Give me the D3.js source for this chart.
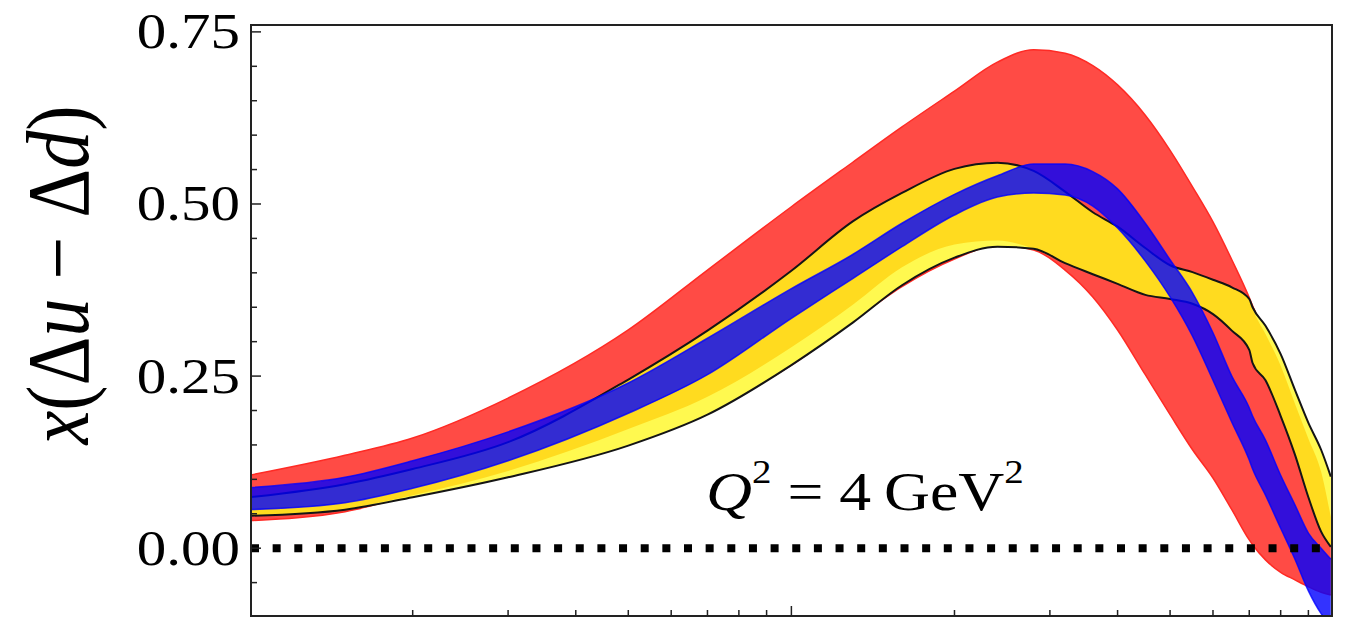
<!DOCTYPE html>
<html>
<head>
<meta charset="utf-8">
<script src="https://cdn.jsdelivr.net/npm/d3@7"></script>
<style>
  html, body { margin: 0; padding: 0; background: #fff; }
  svg { display: block; }
  text { font-family: "Liberation Serif", "Times New Roman", serif; fill: #000; }
</style>
</head>
<body>
<svg id="chart" width="1351" height="619"></svg>
<script>
// Momentum fraction grid shared by all bands
const xGrid = [0.01, 0.015, 0.02, 0.03, 0.05, 0.07, 0.1, 0.13, 0.16, 0.2, 0.24, 0.28, 0.32, 0.36,
               0.4, 0.45, 0.5, 0.55, 0.6, 0.65, 0.7, 0.71, 0.75, 0.8, 0.85, 0.9, 0.95, 0.99];

// Red uncertainty band
const redLow  = [0.040, 0.053, 0.077, 0.108, 0.153, 0.198, 0.266, 0.330, 0.380, 0.420, 0.440, 0.433, 0.404, 0.365,
                 0.317, 0.252, 0.194, 0.143, 0.102, 0.056, 0.012, 0.005, -0.017, -0.035, -0.046, -0.056, -0.064, -0.068];
const redHigh = [0.106, 0.135, 0.160, 0.218, 0.317, 0.404, 0.496, 0.561, 0.612, 0.664, 0.706, 0.724, 0.719, 0.701,
                 0.673, 0.629, 0.578, 0.525, 0.474, 0.419, 0.364, 0.352, 0.310, 0.256, 0.201, 0.143, 0.070, 0.005];

// Yellow band envelope (outlined in black)
const yellowLow  = [0.047, 0.056, 0.074, 0.103, 0.149, 0.194, 0.266, 0.328, 0.382, 0.422, 0.438, 0.435, 0.414, 0.398,
                    0.384, 0.368, 0.362, 0.355, 0.340, 0.316, 0.288, 0.269, 0.244, 0.192, 0.136, 0.074, 0.024, 0.002];
const yellowHigh = [0.074, 0.093, 0.115, 0.154, 0.245, 0.316, 0.403, 0.475, 0.516, 0.551, 0.560, 0.548, 0.518, 0.488,
                    0.467, 0.436, 0.411, 0.401, 0.390, 0.379, 0.362, 0.350, 0.323, 0.282, 0.230, 0.182, 0.143, 0.104];

// Gold band inside the yellow envelope
const goldLow  = [0.047, 0.057, 0.077, 0.112, 0.173, 0.220, 0.292, 0.354, 0.408, 0.441, 0.447, 0.435, 0.414, 0.398,
                  0.384, 0.368, 0.362, 0.355, 0.340, 0.316, 0.288, 0.269, 0.244, 0.192, 0.136, 0.074, 0.024, 0.002];
const goldHigh = [0.074, 0.093, 0.115, 0.154, 0.245, 0.316, 0.403, 0.475, 0.516, 0.551, 0.560, 0.548, 0.518, 0.488,
                  0.467, 0.436, 0.411, 0.401, 0.390, 0.379, 0.362, 0.348, 0.311, 0.265, 0.210, 0.159, 0.111, 0.045];

// Blue uncertainty band
const blueLow  = [0.056, 0.066, 0.087, 0.127, 0.196, 0.252, 0.334, 0.392, 0.438, 0.484, 0.510, 0.516, 0.513, 0.497,
                  0.465, 0.417, 0.365, 0.308, 0.244, 0.183, 0.128, 0.115, 0.077, 0.029, -0.016, -0.062, -0.095, -0.112];
const blueHigh = [0.088, 0.103, 0.127, 0.169, 0.240, 0.305, 0.377, 0.427, 0.472, 0.514, 0.541, 0.558, 0.558, 0.547,
                  0.522, 0.472, 0.419, 0.371, 0.313, 0.250, 0.204, 0.192, 0.157, 0.106, 0.063, 0.022, 0.000, -0.016];

const yMajorTicks = [0.00, 0.25, 0.50, 0.75];
const yTickLabels = ["0.00", "0.25", "0.50", "0.75"];
const xMajorTicks = [0.1];
const xMinorTicks = [0.02, 0.03, 0.04, 0.05, 0.06, 0.07, 0.08, 0.09, 0.2, 0.3, 0.4, 0.5, 0.6, 0.7, 0.8, 0.9];

const plot = { left: 251, right: 1332, top: 25, bottom: 616 };
const stretch = 1.18;

const svg = d3.select("#chart");

const x = d3.scaleLog().domain([0.01006, 0.995]).range([plot.left, plot.right]);
const y = d3.scaleLinear().domain([-0.0985, 0.76]).range([plot.bottom, plot.top]);

svg.append("defs").append("clipPath").attr("id", "plotClip")
  .append("rect")
  .attr("x", plot.left).attr("y", plot.top)
  .attr("width", plot.right - plot.left).attr("height", plot.bottom - plot.top);

const band = (lo, hi) => xGrid.map((xv, i) => ({ x: xv, lo: lo[i], hi: hi[i] }));
const curve = d3.curveMonotoneX;
const area = d3.area().x(d => x(d.x)).y0(d => y(d.lo)).y1(d => y(d.hi)).curve(curve);
const lineLo = d3.line().x(d => x(d.x)).y(d => y(d.lo)).curve(curve);
const lineHi = d3.line().x(d => x(d.x)).y(d => y(d.hi)).curve(curve);

const g = svg.append("g").attr("clip-path", "url(#plotClip)");

// red band
const red = band(redLow, redHigh);
g.append("path").attr("d", area(red)).attr("fill", "#ff4b45");
[lineLo, lineHi].forEach(l => g.append("path").attr("d", l(red))
  .attr("fill", "none").attr("stroke", "#ff2a24").attr("stroke-width", 1.5));

// yellow envelope and gold band
const yellow = band(yellowLow, yellowHigh);
const gold = band(goldLow, goldHigh);
g.append("path").attr("d", area(yellow)).attr("fill", "#fff94f");
g.append("path").attr("d", area(gold)).attr("fill", "#ffdb1f");
[lineLo, lineHi].forEach(l => g.append("path").attr("d", l(yellow))
  .attr("fill", "none").attr("stroke", "#151515").attr("stroke-width", 2));

// blue band (translucent, on top)
const blue = band(blueLow, blueHigh);
g.append("path").attr("d", area(blue)).attr("fill", "#0000ff").attr("fill-opacity", 0.8);
[lineLo, lineHi].forEach(l => g.append("path").attr("d", l(blue))
  .attr("fill", "none").attr("stroke", "#0000ff").attr("stroke-opacity", 0.8).attr("stroke-width", 1.5));

// dotted zero line
g.append("line")
  .attr("x1", plot.left).attr("x2", plot.right)
  .attr("y1", y(0)).attr("y2", y(0))
  .attr("stroke", "#000").attr("stroke-width", 8)
  .attr("stroke-dasharray", "8 13.65");

// frame
svg.append("rect")
  .attr("x", plot.left).attr("y", plot.top)
  .attr("width", plot.right - plot.left).attr("height", plot.bottom - plot.top)
  .attr("fill", "none").attr("stroke", "#222").attr("stroke-width", 2);

// ticks (inward)
const ticks = svg.append("g").attr("stroke", "#222").attr("stroke-width", 1.5);
const yMinor = d3.range(-0.05, 0.7501, 0.05).filter(v => !yMajorTicks.some(m => Math.abs(m - v) < 1e-6));
yMajorTicks.forEach(v => ticks.append("line").attr("x1", plot.left).attr("x2", plot.left + 10)
  .attr("y1", y(v)).attr("y2", y(v)));
yMinor.forEach(v => ticks.append("line").attr("x1", plot.left).attr("x2", plot.left + 6)
  .attr("y1", y(v)).attr("y2", y(v)));
xMajorTicks.forEach(v => ticks.append("line").attr("x1", x(v)).attr("x2", x(v))
  .attr("y1", plot.bottom).attr("y2", plot.bottom - 10));
xMinorTicks.forEach(v => ticks.append("line").attr("x1", x(v)).attr("x2", x(v))
  .attr("y1", plot.bottom).attr("y2", plot.bottom - 6));

// y tick labels
yMajorTicks.forEach((v, i) => {
  svg.append("g").attr("transform", `translate(240,${y(v)}) scale(${stretch},1)`)
    .append("text").attr("text-anchor", "end").attr("dy", "0.33em")
    .attr("font-size", 50).text(yTickLabels[i]);
});

// y axis title
const yt = svg.append("g").attr("transform", `translate(88,275) scale(${stretch},1) rotate(-90)`)
  .append("text").attr("text-anchor", "middle").attr("font-size", 76);
yt.append("tspan").attr("font-style", "italic").text("x");
yt.append("tspan").text("(\u0394");
yt.append("tspan").attr("font-style", "italic").text("u");
yt.append("tspan").text(" \u2212 \u0394");
yt.append("tspan").attr("font-style", "italic").text("d");
yt.append("tspan").text(")");

// scale annotation
const ann = svg.append("g").attr("transform", `translate(706,510) scale(${stretch},1)`)
  .append("text").attr("font-size", 54);
ann.append("tspan").attr("font-style", "italic").text("Q");
ann.append("tspan").attr("font-size", 33).attr("dy", -27).text("2");
ann.append("tspan").attr("dy", 27).text(" = 4\u2009GeV");
ann.append("tspan").attr("font-size", 33).attr("dy", -27).text("2");
</script>
</body>
</html>
